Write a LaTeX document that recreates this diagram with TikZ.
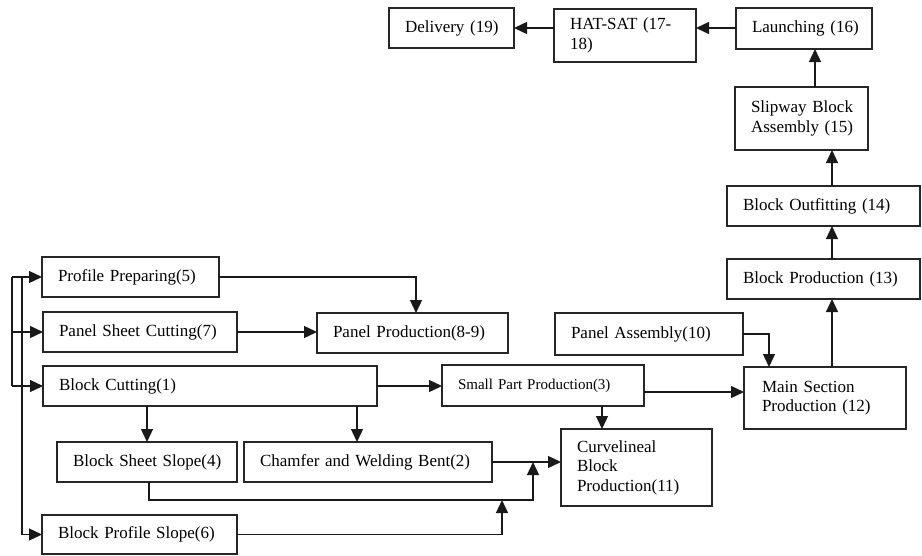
\documentclass[tikz,border=0pt]{standalone}
\usepackage{fontspec}
\setmainfont{Liberation Serif}
\usetikzlibrary{arrows.meta}
\begin{document}
\begin{tikzpicture}[x=1pt,y=-1pt,
  box/.style={draw=black!85, line width=1.3pt, anchor=north west, inner xsep=16pt, inner ysep=0pt, outer sep=0pt, align=left, text=black, font=\fontsize{17}{19.5}\selectfont},
  arr/.style={line width=1.3pt, draw=black!90, -{Triangle[length=13pt,width=12pt]}},
  ln/.style={line width=1.3pt, draw=black!90}]
\useasboundingbox (0,0) rectangle (922,555);
% top row
\node[box, text width=93pt, minimum height=40pt] (del) at (389,8) {\mbox{Delivery (19)}};
\node[box, text width=110pt, minimum height=53pt] (hat) at (554,9) {\mbox{HAT-SAT (17-}\\\mbox{18)}};
\node[box, text width=104pt, minimum height=41pt] (lau) at (736,8) {\mbox{Launching (16)}};
\node[box, text width=101pt, minimum height=63pt] (sli) at (735,87) {\mbox{Slipway Block}\\\mbox{Assembly (15)}};
\node[box, text width=161pt, minimum height=40pt] (out) at (727,186) {\mbox{Block Outfitting (14)}};
\node[box, text width=161pt, minimum height=40pt] (bpr) at (727,259) {\mbox{Block Production (13)}};
% left part
\node[box, text width=145pt, minimum height=40pt] (pro5) at (42,257) {\mbox{Profile Preparing(5)}};
\node[box, text width=162pt, minimum height=40pt] (psc) at (43,312) {\mbox{Panel Sheet Cutting(7)}};
\node[box, text width=159pt, minimum height=40pt] (ppr) at (317,313) {\mbox{Panel Production(8-9)}};
\node[box, text width=156pt, minimum height=42pt] (pas) at (555,313) {\mbox{Panel Assembly(10)}};
\node[box, text width=302pt, minimum height=40pt] (bcu) at (43,366) {\mbox{Block Cutting(1)}};
\node[box, text width=170pt, minimum height=41pt, font=\fontsize{15}{18}\selectfont] (spp) at (442,365) {\mbox{Small Part Production(3)}};
\node[box, inner xsep=18pt, text width=126pt, minimum height=62pt] (msp) at (744,367) {\mbox{Main Section}\\\mbox{Production (12)}};
\node[box, text width=148pt, minimum height=40pt] (bss) at (57,442) {\mbox{Block Sheet Slope(4)}};
\node[box, text width=216pt, minimum height=40pt] (cha) at (244,442) {\mbox{Chamfer and Welding Bent(2)}};
\node[box, text width=119pt, minimum height=77pt] (cur) at (561,429) {\mbox{Curvelineal}\\\mbox{Block}\\\mbox{Production(11)}};
\node[box, text width=163pt, minimum height=39pt] (bps) at (42,515) {\mbox{Block Profile Slope(6)}};
% helper coordinates
\coordinate (bA) at (12,0);
\coordinate (bB) at (22,0);
\coordinate (x416) at (416,0);
\coordinate (x147) at (147,0);
\coordinate (x357) at (357,0);
\coordinate (x602) at (602,0);
\coordinate (y392) at (0,392);
\coordinate (x149) at (149,0);
\coordinate (x533) at (533,0);
\coordinate (y500) at (0,500);
\coordinate (x502) at (502,0);
\coordinate (x769) at (769,0);
\coordinate (x832) at (832,0);
\coordinate (x815) at (815,0);
\coordinate (y28) at (0,28);
% left buses
\draw[ln] (bA |- pro5.west) -- (bA |- bcu.west);
\draw[ln] (bB |- pro5.west) -- (bB |- bps.west);
\draw[arr] (bA |- pro5.west) -- (pro5.west);
\draw[arr] (bA |- psc.west) -- (psc.west);
\draw[arr] (bA |- bcu.west) -- (bcu.west);
\draw[arr] (bB |- bps.west) -- (bps.west);
% connectors
\draw[arr] (pro5.east) -| (ppr.north -| x416);
\draw[arr] (psc.east) -- (ppr.west |- psc.east);
\draw[arr] (bcu.east) -- (spp.west |- bcu.east);
\draw[arr] (bcu.south -| x147) -- (bss.north -| x147);
\draw[arr] (bcu.south -| x357) -- (cha.north -| x357);
\draw[arr] (spp.south -| x602) -- (cur.north -| x602);
\draw[arr] (spp.east |- y392) -- (msp.west |- y392);
\draw[arr] (cha.east) -- (cur.west |- cha.east);
\draw[arr] (bss.south -| x149) |- (x533 |- y500) -- (x533 |- cha.east);
\draw[arr] (bps.east) -| (x502 |- y500);
\draw[arr] (pas.east) -| (msp.north -| x769);
\draw[arr] (msp.north -| x832) -- (bpr.south -| x832);
\draw[arr] (bpr.north -| x832) -- (out.south -| x832);
\draw[arr] (out.north -| x832) -- (sli.south -| x832);
\draw[arr] (sli.north -| x815) -- (lau.south -| x815);
\draw[arr] (lau.west |- y28) -- (hat.east |- y28);
\draw[arr] (hat.west |- y28) -- (del.east |- y28);
\end{tikzpicture}
\end{document}
